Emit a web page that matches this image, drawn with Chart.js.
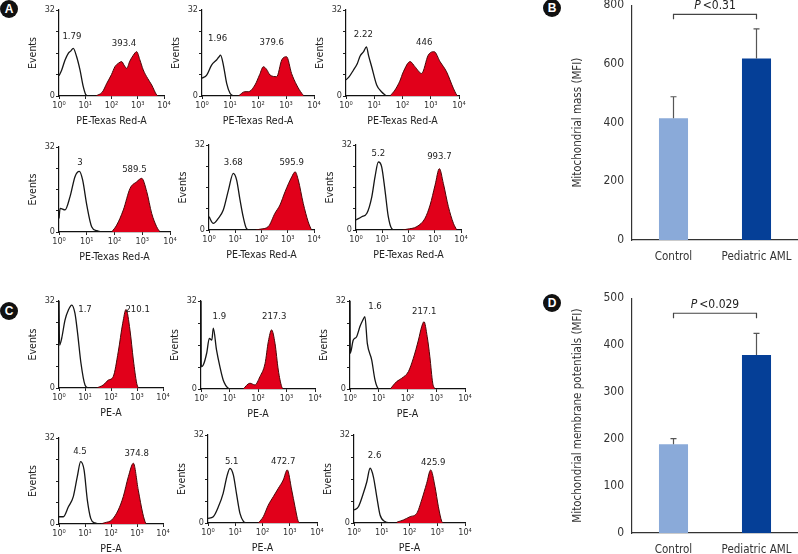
<!DOCTYPE html>
<html>
<head>
<meta charset="utf-8">
<script src="https://cdn.jsdelivr.net/npm/chart.js@4.4.1/dist/chart.umd.min.js"></script>
<style>
  body { margin: 0; width: 798px; height: 554px; position: relative; overflow: hidden; background: #fff; }
  canvas { position: absolute; }
  .tag { position: absolute; width: 18px; height: 18px; border-radius: 50%; background: #111; color: #fff;
         font: bold 12px 'Liberation Sans', Arial, sans-serif; text-align: center; line-height: 18px; }
</style>
</head>
<body>
<div class="tag" style="left:0px;top:0px">A</div>
<div class="tag" style="left:543px;top:-1px">B</div>
<div class="tag" style="left:0px;top:302px">C</div>
<div class="tag" style="left:543px;top:294px">D</div>
<script>
const FONT = "'Liberation Sans Narrow', 'DejaVu Sans Condensed', 'Arial Narrow', sans-serif";
Chart.defaults.font.family = FONT;
Chart.defaults.color = "#333";

// ---- histogram data, [fluorescence, events] ----
const a1Unstained = [[1,7.5],[1.27,9.7],[1.7,13.4],[2.26,15.9],[2.79,16.7],[3.5,17.7],[4.7,14.6],[6.3,9.7],[8.4,3.5],[10.7,0.4],[14,0]];
const a1Stained = [[25,0],[45,1.5],[66,4.7],[100,8],[135,10.9],[190,12.3],[245,12.8],[300,11.5],[378,10.3],[500,13],[680,15.2],[910,16.5],[1200,13.5],[1620,9.7],[2400,6.5],[3400,4.1],[5250,0.4],[6000,0]];
const a2Unstained = [[1,6.6],[1.47,7.8],[2.2,11.5],[3.3,13.4],[4,14.5],[4.6,15.2],[5.8,11.5],[7.6,4.7],[10,1],[13,0]];
const a2Stained = [[20,0],[34,1.6],[45,1.6],[78,4.1],[115,8],[155,10.9],[200,10],[270,7.8],[465,7.2],[705,13.4],[1050,14.6],[1580,8.4],[2400,4.1],[3640,1],[4400,0]];
const a3Unstained = [[1,6],[1.3,7.2],[1.8,9.5],[2.5,12],[3.2,15],[4.2,16.5],[5.3,18.3],[6.3,15],[8.1,10.9],[12.2,4.1],[18,1.6],[27,0]];
const a3Stained = [[36,0],[54,2.2],[80,5.5],[107,9],[186,12.8],[276,10.9],[475,8.4],[815,15.2],[1320,16.5],[2130,12.8],[3630,9],[6300,2.9],[8300,0.4],[9000,0]];
const a4Unstained = [[1,5.1],[1.1,8.9],[1.65,8.3],[2.5,13.3],[3.8,20.9],[5.4,22.8],[7.1,19.6],[10,10.2],[15,2],[23,0.5],[35,0]];
const a4Stained = [[79,0],[120,2.6],[208,8.3],[363,16.4],[630,18.9],[955,20.2],[1450,15.2],[2190,7],[3300,2],[4370,0]];
const a5Unstained = [[1,5],[1.46,2.5],[2.26,4.4],[3.5,7.5],[5.5,15],[8.4,21.3],[11.3,18.8],[15.2,11.3],[20,5],[27,0.5],[37,0]];
const a5Stained = [[60,0],[88,0.3],[182,1.3],[325,6.3],[505,9.4],[790,14.4],[1420,20],[1910,21.9],[2520,18.8],[3900,10],[6000,3.1],[8000,0]];
const a6Unstained = [[1,3.8],[1.65,5],[2.6,6.3],[4,12.5],[5.3,20],[7.1,25.6],[9.5,23.8],[12.7,15],[17,5],[23,0.5],[31,0]];
const a6Stained = [[60,0],[87,0.3],[210,1.3],[425,4.4],[665,9.4],[1030,16.9],[1500,23.1],[2130,17.5],[3300,8.8],[5150,2.5],[6900,0]];

const c1Unstained = [[1,32],[1.05,15.8],[1.27,18.3],[1.7,25],[2.3,28.7],[3.1,30.5],[4.1,27.5],[5.2,20.1],[7,9.1],[10,1.1],[13.4,0]];
const c1Stained = [[28,0],[50,1.1],[79,2.9],[122,4.2],[190,13.3],[282,23.8],[380,28.9],[537,21.3],[725,10.3],[975,1.7],[1120,0]];
const c2Unstained = [[1,32],[1.02,8.1],[1.2,8.7],[1.58,13],[1.96,18.4],[2.4,17.8],[2.7,22.1],[3.5,14.2],[4.6,8.1],[6,3.3],[9.1,0.3],[12,0]];
const c2Stained = [[30,0],[52,2.1],[78,1.5],[117,4.5],[177,9.3],[230,17.2],[300,21.5],[395,16.6],[515,6.9],[680,0.8],[775,0]];
const c3Unstained = [[1,32],[1.02,13],[1.3,17.8],[1.7,19],[2.2,22.6],[2.8,25.1],[3.3,26.3],[4,16.6],[5.7,10.5],[7.4,3.3],[9.6,0.2],[12,0]];
const c3Stained = [[25,0],[42,2.7],[63,3.9],[107,6.3],[160,11.2],[240,17.8],[310,22.6],[375,24.5],[485,19],[600,11.7],[755,2.1],[910,0]];
const c4Unstained = [[1,2.7],[1.47,2.7],[2.3,6.4],[3.55,10.2],[5.05,17.6],[6.8,23.2],[9.2,20.1],[12.3,8.9],[16.6,2.1],[24,0.4],[38,0]];
const c4Stained = [[40,0],[59,0.5],[107,1.5],[190,5.2],[297,10.2],[465,17.6],[725,22.6],[1120,12.6],[1660,4],[2150,0.3],[2300,0]];
const c5Unstained = [[1,1.7],[1.56,2.3],[2.4,5.9],[3.6,10.8],[4.9,16.8],[6.4,19.9],[8.5,17.5],[11.3,10.2],[14.9,3.5],[20,0.6],[26,0]];
const c5Stained = [[70,0],[107,2.3],[163,6.5],[250,9.6],[380,12.6],[575,15.6],[810,19.3],[1180,12],[1560,5.9],[2050,0.6],[2400,0]];
const c6Unstained = [[1,4.7],[1.44,5.9],[2.17,10.8],[2.9,15],[3.8,19.9],[5,16.8],[6.6,9.6],[8.7,2.9],[13,0.5],[20,0]];
const c6Stained = [[35,0.3],[60,1.1],[105,2.3],[182,3.5],[275,8.4],[415,14.4],[580,19.3],[830,13.2],[1100,5.9],[1450,0.6],[1660,0]];

// MFI numbers printed over the peaks
const aUnstainedMfi = ["1.79", "1.96", "2.22", "3", "3.68", "5.2"];
const aStainedMfi = ["393.4", "379.6", "446", "589.5", "595.9", "993.7"];
const cUnstainedMfi = ["1.7", "1.9", "1.6", "4.5", "5.1", "2.6"];
const cStainedMfi = ["210.1", "217.3", "217.1", "374.8", "472.7", "425.9"];

const xTicks = [1, 10, 100, 1000, 10000];
const yTicksHist = [0, 32];

// ---- bar charts ----
const groups = ["Control", "Pediatric AML"];
const massMeans = [415, 618];
const massErrors = [73, 101];
const potentialMeans = [189, 379];
const potentialErrors = [12, 46];

// ---- layout (pixel boxes and label anchors, not data) ----
const histBoxes = [
  [59, 164, 10, 96], [202, 314, 10, 96], [346, 459, 10, 96],
  [59, 170, 147, 232], [209, 314, 145, 230], [356, 461, 145, 230],
  [59, 163, 301, 388], [201, 315, 301, 389], [350, 465, 301, 389],
  [59, 163, 438, 524], [208, 317, 435, 523], [354, 465, 435, 523]
];
const labelAnchors = [
  [[3.1, 22.3], [300, 19.7]], [[3.6, 21.3], [310, 20]], [[4.1, 22.7], [590, 20]],
  [[5.7, 26.2], [520, 23.7]], [[8.4, 25.5], [1410, 25.5]], [[7.1, 28.8], [1500, 27.8]],
  [[10, 28.7], [1060, 28.7]], [[4.4, 26.5], [370, 26.5]], [[7.4, 30], [380, 28.1]],
  [[6.4, 26.9], [970, 26.3]], [[7.4, 22.5], [575, 22.5]], [[5.5, 24.5], [720, 22]]
];

const sup = ["\u2070", "\u00b9", "\u00b2", "\u00b3", "\u2074"];

function makeCanvas(left, top, w, h) {
  const c = document.createElement("canvas");
  c.width = w; c.height = h;
  c.style.left = left + "px";
  c.style.top = top + "px";
  document.body.appendChild(c);
  return c;
}

function histogram(box, open, stained, texts, anchors, xTitle) {
  const [x0, x4, top, zero] = box;
  const yW = 36, xH = 34, padT = 8, padR = 10;
  const canvas = makeCanvas(x0 - yW, top - padT, x4 - x0 + yW + padR, zero - top + padT + xH);
  const toXY = arr => arr.map(p => ({ x: p[0], y: p[1] }));

  new Chart(canvas, {
    type: "line",
    data: {
      datasets: [
        { data: toXY(stained), borderColor: "#4a0606", borderWidth: 1, backgroundColor: "#e1001a",
          fill: "origin", pointRadius: 0, cubicInterpolationMode: "monotone" },
        { data: toXY(open), borderColor: "#151515", borderWidth: 1.3, fill: false,
          pointRadius: 0, cubicInterpolationMode: "monotone" }
      ]
    },
    options: {
      responsive: false,
      animation: false,
      layout: { padding: { top: padT, right: padR, left: 0, bottom: 0 } },
      plugins: { legend: { display: false }, tooltip: { enabled: false } },
      scales: {
        x: {
          type: "logarithmic", min: 1, max: 10000,
          afterBuildTicks: s => { s.ticks = xTicks.map(v => ({ value: v })); },
          afterFit: s => { s.height = xH; },
          ticks: { callback: v => "10" + sup[Math.round(Math.log10(v))], maxRotation: 0, autoSkip: false,
                   padding: 1, font: { size: 9 }, color: "#333" },
          grid: { drawOnChartArea: false, tickLength: 3, color: "#222" },
          border: { color: "#111", width: 1.2 },
          title: { display: true, text: xTitle, font: { size: 10.5 }, color: "#222", padding: { top: 2, bottom: 2 } }
        },
        y: {
          min: 0, max: 32,
          afterFit: s => { s.width = yW; },
          ticks: { stepSize: 8, callback: v => yTicksHist.includes(v) ? v : "", padding: 1,
                   font: { size: 9 }, color: "#333" },
          grid: { drawOnChartArea: false, tickLength: 3, color: "#222" },
          border: { color: "#111", width: 1.2 },
          title: { display: true, text: "Events", font: { size: 10.5 }, color: "#222" }
        }
      }
    },
    plugins: [{
      id: "peakText",
      afterDatasetsDraw(chart) {
        const ctx = chart.ctx, xs = chart.scales.x, ys = chart.scales.y;
        ctx.save();
        ctx.font = "9.5px " + FONT;
        ctx.fillStyle = "#222";
        ctx.textAlign = "center";
        ctx.textBaseline = "middle";
        texts.forEach((t, i) => {
          ctx.fillText(t, xs.getPixelForValue(anchors[i][0]), ys.getPixelForValue(anchors[i][1]));
        });
        ctx.restore();
      }
    }]
  });
}

const openCurves = [a1Unstained, a2Unstained, a3Unstained, a4Unstained, a5Unstained, a6Unstained,
                    c1Unstained, c2Unstained, c3Unstained, c4Unstained, c5Unstained, c6Unstained];
const redCurves = [a1Stained, a2Stained, a3Stained, a4Stained, a5Stained, a6Stained,
                   c1Stained, c2Stained, c3Stained, c4Stained, c5Stained, c6Stained];

for (let i = 0; i < 12; i++) {
  const massPanel = i < 6;
  const k = i % 6;
  const texts = massPanel ? [aUnstainedMfi[k], aStainedMfi[k]] : [cUnstainedMfi[k], cStainedMfi[k]];
  histogram(histBoxes[i], openCurves[i], redCurves[i], texts, labelAnchors[i],
            massPanel ? "PE-Texas Red-A" : "PE-A");
}

function barPanel(left, top, h, padT, xH, means, errors, yMax, step, yTitle, pText, bracketAt) {
  // chart area runs from x=632 to the right edge (798); extra 12px canvas past the page edge
  const canvas = makeCanvas(left, top, 243, h);
  new Chart(canvas, {
    type: "bar",
    data: {
      labels: groups,
      datasets: [{ data: means, backgroundColor: ["#8aaad9", "#053f97"],
                   categoryPercentage: 1, barPercentage: 0.35 }]
    },
    options: {
      responsive: false,
      animation: false,
      layout: { padding: { top: padT, right: 12, left: 0, bottom: 0 } },
      plugins: { legend: { display: false }, tooltip: { enabled: false } },
      scales: {
        x: {
          afterFit: s => { s.height = xH; },
          grid: { display: false, drawTicks: true, tickLength: 10 },
          border: { color: "#333", width: 1.2 },
          ticks: { padding: 0, font: { size: 11.5 }, color: "#333" }
        },
        y: {
          min: 0, max: yMax,
          afterFit: s => { s.width = 65; },
          grid: { display: false, drawTicks: true, tickLength: 8 },
          border: { color: "#333", width: 1.2 },
          ticks: { stepSize: step, padding: 0, font: { size: 12 }, color: "#333" },
          title: { display: true, text: yTitle, font: { size: 11.5 }, color: "#333" }
        }
      }
    },
    plugins: [{
      id: "errorsAndP",
      afterDatasetsDraw(chart) {
        const ctx = chart.ctx, ys = chart.scales.y;
        const bars = chart.getDatasetMeta(0).data;
        ctx.save();
        ctx.strokeStyle = "#555";
        ctx.lineWidth = 1.2;
        bars.forEach((b, i) => {
          const yTop = ys.getPixelForValue(means[i] + errors[i]);
          ctx.beginPath();
          ctx.moveTo(b.x, ys.getPixelForValue(means[i]));
          ctx.lineTo(b.x, yTop);
          ctx.moveTo(b.x - 3, yTop);
          ctx.lineTo(b.x + 3, yTop);
          ctx.stroke();
        });
        // significance bracket
        const yb = ys.getPixelForValue(bracketAt);
        const xa = bars[0].x, xb = bars[1].x;
        ctx.strokeStyle = "#444";
        ctx.beginPath();
        ctx.moveTo(xa, yb + 5); ctx.lineTo(xa, yb); ctx.lineTo(xb, yb); ctx.lineTo(xb, yb + 5);
        ctx.stroke();
        ctx.fillStyle = "#222";
        ctx.textBaseline = "bottom";
        ctx.font = "italic 12px " + FONT;
        const wP = ctx.measureText("P").width;
        ctx.font = "12px " + FONT;
        const wR = ctx.measureText(pText).width;
        const gap = 2;
        let x = (xa + xb) / 2 - (wP + gap + wR) / 2;
        ctx.textAlign = "left";
        ctx.font = "italic 12px " + FONT;
        ctx.fillText("P", x, yb - 2);
        ctx.font = "12px " + FONT;
        ctx.fillText(pText, x + wP + gap, yb - 2);
        ctx.restore();
      }
    }]
  });
}

barPanel(567, -2, 267, 7, 25, massMeans, massErrors, 800, 200,
         "Mitochondrial mass (MFI)", "<0.31", 769);
barPanel(567, 291, 263, 7, 21, potentialMeans, potentialErrors, 500, 100,
         "Mitochondrial membrane potentials (MFI)", "<0.029", 468);
</script>
</body>
</html>
